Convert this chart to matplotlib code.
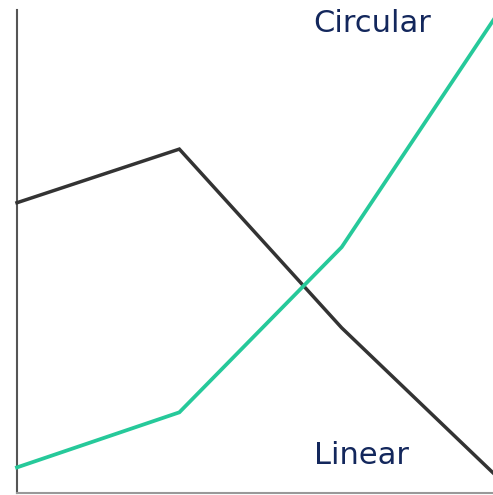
import matplotlib
matplotlib.use("Agg")
import matplotlib.pyplot as plt

W, H = 493, 495

steps = [0, 1, 2, 3]
linear = [60.1, 71.2, 34.2, 2.0]
circular = [5.3, 16.7, 50.9, 101.2]
labels = ["Circular", "Linear"]

fig = plt.figure(figsize=(W / 100, H / 100), dpi=100)
# axes: left spine at x=17px, bottom at y=493px, top at 10px; last step lies just beyond the right edge
ax = fig.add_axes([17 / W, (H - 493) / H, (504 - 17) / W, (493 - 10) / H])
ax.set_xlim(0, 3)
ax.set_ylim(0, 100)

ax.plot(steps, linear, color="#333333", lw=2.5, solid_joinstyle="miter", clip_on=False, zorder=3)
ax.plot(steps, circular, color="#26c99a", lw=2.7, solid_joinstyle="miter", clip_on=False, zorder=3)

ax.set_xticks([])
ax.set_yticks([])
for s in ["top", "right"]:
    ax.spines[s].set_visible(False)
ax.spines["left"].set_color("#555555")
ax.spines["left"].set_linewidth(1.5)
ax.spines["bottom"].set_color("#999999")
ax.spines["bottom"].set_linewidth(1.5)

navy = "#13275c"
fig.text(313 / W, 1 - 32 / H, labels[0], color=navy, fontsize=22, family="DejaVu Sans",
         ha="left", va="baseline")
fig.text(314 / W, 1 - 464 / H, labels[1], color=navy, fontsize=22, family="DejaVu Sans",
         ha="left", va="baseline")

fig.savefig("out.png", dpi=100)
